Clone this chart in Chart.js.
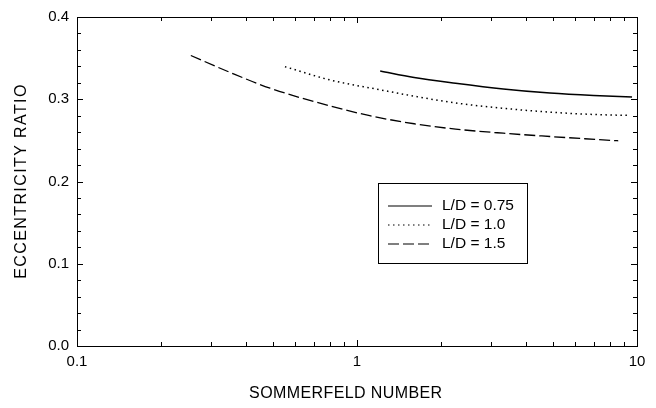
<!DOCTYPE html>
<html>
<head>
<meta charset="utf-8">
<script src="https://cdn.jsdelivr.net/npm/chart.js@4.4.1/dist/chart.umd.min.js"></script>
<style>
  html, body { margin: 0; padding: 0; background: #fff; }
  #wrap { width: 656px; height: 408px; position: relative; }
</style>
</head>
<body>
<div id="wrap"><canvas id="chart"></canvas></div>
<script>
// values
const sommerfeld075 = [1.21, 1.6, 2.25, 3.33, 4.89, 7, 9.6];
const ecc075        = [0.3343, 0.3265, 0.3195, 0.3125, 0.3075, 0.3045, 0.3027];

const sommerfeld10 = [0.553, 0.8, 1.21, 1.6, 2.33, 3.33, 4.89, 7, 9.45];
const ecc10        = [0.3396, 0.3235, 0.3115, 0.3037, 0.2948, 0.2890, 0.2843, 0.2815, 0.2803];

const sommerfeld15 = [0.255, 0.35, 0.489, 0.8, 1.11, 1.6, 2.25, 3.33, 4.89, 6.5, 8.57];
const ecc15        = [0.3532, 0.3330, 0.3135, 0.2920, 0.2800, 0.2702, 0.2637, 0.2587, 0.2547, 0.2520, 0.2495];

const seriesLabels = ['L/D = 0.75', 'L/D = 1.0', 'L/D = 1.5'];
const xTickLabels = [0.1, 1, 10];
const FONT = '"Liberation Sans", Arial, sans-serif';

const pts = (xs, ys) => xs.map((x, i) => ({ x, y: ys[i] }));

const frameAndTicks = {
  id: 'frameAndTicks',
  afterDraw(chart) {
    const { ctx, chartArea: a, scales } = chart;
    const xs = scales.x, ys = scales.y;
    ctx.save();
    ctx.strokeStyle = '#000';
    ctx.lineWidth = 1;
    ctx.strokeRect(Math.round(a.left) + 0.5, Math.round(a.top) + 0.5,
                   Math.round(a.width), Math.round(a.height));
    ctx.beginPath();
    // x ticks (log), inward on bottom and top
    for (let d = -1; d <= 0; d++) {
      for (let m = 1; m <= 9; m++) {
        const v = m * Math.pow(10, d);
        const px = Math.round(xs.getPixelForValue(v)) + 0.5;
        const len = m === 1 ? 6 : 4;
        ctx.moveTo(px, a.bottom); ctx.lineTo(px, a.bottom - len);
        ctx.moveTo(px, a.top); ctx.lineTo(px, a.top + len);
      }
    }
    // y ticks every 0.02, inward on left and right
    for (let i = 0; i <= 20; i++) {
      const py = Math.round(ys.getPixelForValue(i * 0.02)) + 0.5;
      const len = i % 5 === 0 ? 6 : 4;
      ctx.moveTo(a.left, py); ctx.lineTo(a.left + len, py);
      ctx.moveTo(a.right, py); ctx.lineTo(a.right - len, py);
    }
    ctx.stroke();

    // axis titles
    ctx.fillStyle = '#000';
    ctx.font = '16px ' + FONT;
    ctx.textAlign = 'center';
    ctx.textBaseline = 'middle';
    ctx.letterSpacing = '0.4px';
    ctx.fillText('SOMMERFELD NUMBER', a.left + a.width * 0.48, 394);
    ctx.save();
    ctx.translate(22, 181);
    ctx.rotate(-Math.PI / 2);
    ctx.letterSpacing = '1.4px';
    ctx.fillText('ECCENTRICITY RATIO', 0, 0);
    ctx.restore();
    ctx.letterSpacing = '0px';

    // legend box
    const lx = a.left + 301, ly = a.top + 166, lw = 149, lh = 80;
    ctx.fillStyle = '#fff';
    ctx.fillRect(lx, ly, lw, lh);
    ctx.strokeStyle = '#000';
    ctx.lineWidth = 1;
    ctx.strokeRect(lx + 0.5, ly + 0.5, lw, lh);
    ctx.font = '15.5px ' + FONT;
    ctx.textAlign = 'left';
    chart.data.datasets.forEach((ds, i) => {
      const y = ly + 23 + i * 19;
      ctx.beginPath();
      ctx.strokeStyle = ds.borderColor;
      ctx.lineWidth = 1.2;
      ctx.setLineDash(ds.borderDash || []);
      ctx.moveTo(lx + 10, y); ctx.lineTo(lx + 54, y);
      ctx.stroke();
      ctx.setLineDash([]);
      ctx.fillStyle = '#000';
      ctx.fillText(ds.label, lx + 64, y);
    });
    ctx.restore();
  }
};

new Chart(document.getElementById('chart').getContext('2d'), {
  type: 'line',
  data: {
    datasets: [
      { label: seriesLabels[0], data: pts(sommerfeld075, ecc075), borderColor: '#000', borderWidth: 1.5, cubicInterpolationMode: 'monotone' },
      { label: seriesLabels[1], data: pts(sommerfeld10, ecc10), borderColor: '#000', borderWidth: 1.5, borderDash: [1.5, 3.5], cubicInterpolationMode: 'monotone' },
      { label: seriesLabels[2], data: pts(sommerfeld15, ecc15), borderColor: '#000', borderWidth: 1.3, borderDash: [11, 4], cubicInterpolationMode: 'monotone' }
    ]
  },
  options: {
    responsive: true,
    maintainAspectRatio: false,
    animation: false,
    elements: { point: { radius: 0 } },
    layout: { padding: { top: 13, right: 19, left: 0, bottom: 0 } },
    plugins: { legend: { display: false }, tooltip: { enabled: false } },
    scales: {
      x: {
        type: 'logarithmic',
        min: 0.1, max: 10,
        grid: { display: false, drawTicks: false },
        border: { display: false },
        ticks: {
          autoSkip: false, maxRotation: 0, padding: 7,
          color: '#000', font: { family: FONT, size: 15 },
          callback: v => xTickLabels.find(t => Math.abs(t - v) < 1e-9) !== undefined ? String(v) : ''
        },
        afterFit: s => { s.height = 62; }
      },
      y: {
        min: 0, max: 0.4,
        grid: { display: false, drawTicks: false },
        border: { display: false },
        ticks: {
          stepSize: 0.1, padding: 8,
          color: '#000', font: { family: FONT, size: 15 },
          callback: v => v.toFixed(1)
        },
        afterFit: s => { s.width = 77; }
      }
    }
  },
  plugins: [frameAndTicks]
});
</script>
</body>
</html>
